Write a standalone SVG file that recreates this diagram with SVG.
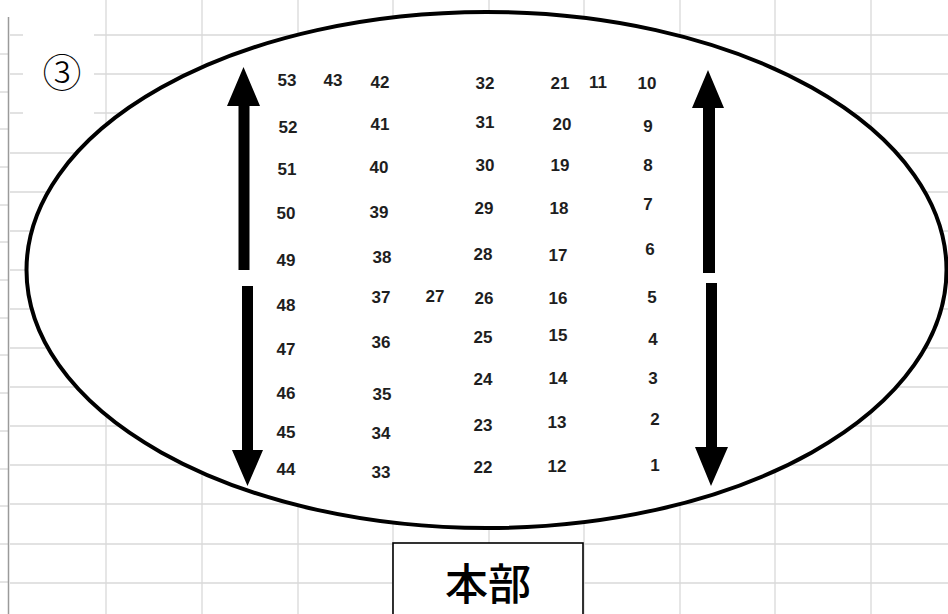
<svg xmlns="http://www.w3.org/2000/svg" width="948" height="614" viewBox="0 0 948 614">
<style>
.grid line{stroke:#d9d9d9;stroke-width:1.3}
.tick line{stroke:#c8c8c8;stroke-width:1}
.num{font-family:"Liberation Sans",Arial,sans-serif;font-weight:bold;font-size:17px;fill:#1e1e1e;text-anchor:middle}
.arrow{fill:#000}
.jp{font-family:"Noto Sans CJK JP","Noto Sans",sans-serif;fill:#000;text-anchor:middle}
</style>
<rect width="948" height="614" fill="#fff"/>
<g class="grid" id="grid">
<line x1="10" y1="35" x2="948" y2="35"/><line x1="10" y1="74" x2="948" y2="74"/><line x1="10" y1="113" x2="948" y2="113"/><line x1="10" y1="153" x2="948" y2="153"/><line x1="10" y1="192" x2="948" y2="192"/><line x1="10" y1="231" x2="948" y2="231"/><line x1="10" y1="270" x2="948" y2="270"/><line x1="10" y1="309" x2="948" y2="309"/><line x1="10" y1="348" x2="948" y2="348"/><line x1="10" y1="387" x2="948" y2="387"/><line x1="10" y1="426" x2="948" y2="426"/><line x1="10" y1="465" x2="948" y2="465"/><line x1="10" y1="504" x2="948" y2="504"/><line x1="10" y1="544" x2="948" y2="544"/><line x1="10" y1="583" x2="948" y2="583"/>
<line x1="106" y1="0" x2="106" y2="614"/><line x1="202" y1="0" x2="202" y2="614"/><line x1="298" y1="0" x2="298" y2="614"/><line x1="393" y1="0" x2="393" y2="614"/><line x1="489" y1="0" x2="489" y2="614"/><line x1="584" y1="0" x2="584" y2="614"/><line x1="680" y1="0" x2="680" y2="614"/><line x1="775" y1="0" x2="775" y2="614"/><line x1="871" y1="0" x2="871" y2="614"/>
</g>
<g class="tick">
<line x1="0" y1="54" x2="8" y2="54"/><line x1="0" y1="92" x2="8" y2="92"/><line x1="0" y1="129" x2="8" y2="129"/><line x1="0" y1="167" x2="8" y2="167"/><line x1="0" y1="205" x2="8" y2="205"/><line x1="0" y1="242" x2="8" y2="242"/><line x1="0" y1="280" x2="8" y2="280"/><line x1="0" y1="318" x2="8" y2="318"/><line x1="0" y1="355" x2="8" y2="355"/><line x1="0" y1="393" x2="8" y2="393"/><line x1="0" y1="431" x2="8" y2="431"/><line x1="0" y1="469" x2="8" y2="469"/><line x1="0" y1="506" x2="8" y2="506"/><line x1="0" y1="544" x2="8" y2="544"/><line x1="0" y1="582" x2="8" y2="582"/>
</g>
<line x1="8.5" y1="17" x2="8.5" y2="614" stroke="#9a9a9a" stroke-width="1.5"/>
<g id="label3">
<rect x="23" y="20" width="71" height="100" fill="#fff"/>
<text class="jp" x="62" y="87" font-size="39" font-weight="300">③</text>
</g>
<g id="area">
<ellipse cx="486.5" cy="270" rx="460" ry="258" fill="#fff" stroke="#000" stroke-width="4"/>
</g>
<g id="hq">
<rect x="393" y="543" width="190" height="80" fill="#fff" stroke="#000" stroke-width="1.6"/>
<text class="jp" x="488" y="600" font-size="43" font-weight="500">本部</text>
</g>
<g id="numbers" class="num">
<text x="287" y="86">53</text><text x="333" y="86">43</text><text x="380" y="88">42</text><text x="485" y="89">32</text><text x="560" y="89">21</text><text x="598" y="88">11</text><text x="647" y="89">10</text>
<text x="288" y="133">52</text><text x="380" y="130">41</text><text x="485" y="128">31</text><text x="562" y="130">20</text><text x="648" y="132">9</text>
<text x="287" y="175">51</text><text x="379" y="173">40</text><text x="485" y="171">30</text><text x="560" y="171">19</text><text x="648" y="171">8</text>
<text x="286" y="219">50</text><text x="379" y="218">39</text><text x="484" y="214">29</text><text x="559" y="214">18</text><text x="648" y="210">7</text>
<text x="286" y="266">49</text><text x="382" y="263">38</text><text x="483" y="260">28</text><text x="558" y="261">17</text><text x="650" y="255">6</text>
<text x="286" y="311">48</text><text x="381" y="303">37</text><text x="435" y="302">27</text><text x="484" y="304">26</text><text x="558" y="304">16</text><text x="652" y="303">5</text>
<text x="286" y="355">47</text><text x="381" y="348">36</text><text x="483" y="343">25</text><text x="558" y="341">15</text><text x="653" y="345">4</text>
<text x="286" y="399">46</text><text x="382" y="400">35</text><text x="483" y="385">24</text><text x="558" y="384">14</text><text x="653" y="384">3</text>
<text x="286" y="438">45</text><text x="381" y="439">34</text><text x="483" y="431">23</text><text x="557" y="428">13</text><text x="655" y="425">2</text>
<text x="286" y="475">44</text><text x="381" y="478">33</text><text x="483" y="473">22</text><text x="557" y="472">12</text><text x="655" y="471">1</text>
</g>
<g id="connectors" class="arrow">
<path d="M243.5 67 L260 106 L249.5 106 L249.5 270 L238.5 270 L238.5 106 L227 106 Z"/>
<path d="M242 286 L253 286 L253 450 L263 450 L247.5 486 L232 450 L242 450 Z"/>
<path d="M708 70 L724 108 L715 108 L715 273 L703 273 L703 108 L692 108 Z"/>
<path d="M706 283 L717 283 L717 447 L728 447 L711 486 L695 447 L706 447 Z"/>
</g>
</svg>
